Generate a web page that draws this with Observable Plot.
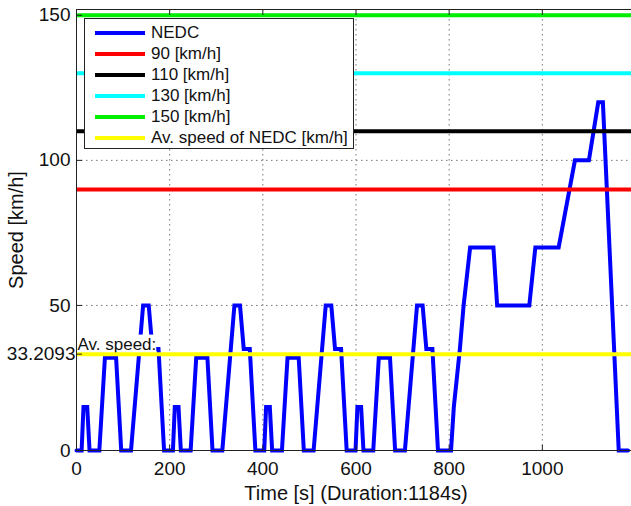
<!DOCTYPE html>
<html><head><meta charset="utf-8">
<script src="https://cdn.jsdelivr.net/npm/d3@7"></script>
<script src="https://cdn.jsdelivr.net/npm/@observablehq/plot@0.6"></script>
<style>
html,body{margin:0;padding:0;background:#fff;overflow:hidden}
#wrap{position:relative;width:631px;height:506px;font-family:"Liberation Sans",Arial,sans-serif;overflow:hidden}
#legend{position:absolute;left:84px;top:18px;width:270px;height:131px;background:#fff;border:1px solid #222;box-sizing:border-box;padding-top:3px}
.row{display:flex;align-items:center;height:21px;font-size:17px;color:#111;white-space:nowrap}
.sw{width:50px;height:4px;margin-left:10px;margin-right:6px}
</style></head><body><div id="wrap"></div>
<script>
// NEDC speed profile (time in s, speed in km/h)
const nedcTime = [0,11,15,23,28,49,61,85,96,117,143,155,163,176,188,
  207,211,219,224,245,257,281,292,313,339,351,359,372,384,
  403,407,415,420,441,453,477,488,509,535,547,555,568,580,
  599,603,611,616,637,649,673,684,705,731,743,751,764,776,
  804,810,823,831,845,895,903,972,985,1035,1070,1100,1120,1130,1164,1184];
const nedcSpeed = [0,0,15,15,0,0,32,32,0,0,50,50,35,35,0,
  0,15,15,0,0,32,32,0,0,50,50,35,35,0,
  0,15,15,0,0,32,32,0,0,50,50,35,35,0,
  0,15,15,0,0,32,32,0,0,50,50,35,35,0,
  0,15,35,50,70,70,50,50,70,70,100,100,120,120,0,0];
const refSpeeds = [90, 110, 130, 150];
const avgSpeed = 33.2093;
const seriesNames = ["NEDC","90 [km/h]","110 [km/h]","130 [km/h]","150 [km/h]","Av. speed of NEDC [km/h]"];
const seriesColors = ["#0000ff","#ff0000","#000000","#00ffff","#00ee00","#ffff00"];
const xTicks = [0, 200, 400, 600, 800, 1000];
const yTicks = [0, 50, 100, 150];
const xLabel = "Time [s] (Duration:1184s)";
const yLabel = "Speed [km/h]";
const avgLabel = "Av. speed:";

const nedc = nedcTime.map((t, i) => ({t, v: nedcSpeed[i]}));
const refs = refSpeeds.map((v, i) => ({v, c: seriesColors[i + 1]}));
const fmt = d => String(d);

const chart = Plot.plot({
  width: 631, height: 506,
  marginLeft: 76, marginRight: -4, marginTop: 9, marginBottom: 56,
  style: {fontFamily: "Liberation Sans, Arial, sans-serif", fontSize: "19px", color: "#111", background: "#fff"},
  x: {domain: [0, 1200]},
  y: {domain: [0, 152]},
  color: {type: "identity"},
  marks: [
    Plot.gridX(xTicks, {stroke: "#555", strokeOpacity: 0.8, strokeDasharray: "1.5,3.5"}),
    Plot.gridY([...yTicks, avgSpeed], {stroke: "#555", strokeOpacity: 0.8, strokeDasharray: "1.5,3.5"}),
    Plot.line(nedc, {x: "t", y: "v", stroke: seriesColors[0], strokeWidth: 4, strokeLinejoin: "miter", strokeMiterlimit: 3}),
    Plot.text([avgSpeed], {y: d => d, frameAnchor: "left", text: () => avgLabel, textAnchor: "start", dx: 1, dy: -10, fontSize: 17, fill: "#111"}),
    Plot.ruleY(refs, {y: "v", stroke: "c", strokeWidth: 4}),
    Plot.ruleY([avgSpeed], {stroke: seriesColors[5], strokeWidth: 4}),
    Plot.axisX(xTicks, {tickSize: -5, tickPadding: 15.5, stroke: "#222", fontSize: 19, tickFormat: fmt, label: xLabel, labelAnchor: "center", labelOffset: 49, labelArrow: "none"}),
    Plot.axisX(xTicks, {anchor: "top", tickSize: -5, stroke: "#222", tickFormat: () => "", label: null}),
    Plot.axisY(yTicks, {tickSize: -6, tickPadding: 12, stroke: "#222", fontSize: 19, tickFormat: fmt, label: yLabel, labelAnchor: "center", labelOffset: 68, labelArrow: "none"}),
    Plot.axisY([avgSpeed], {tickSize: -6, tickPadding: 7, stroke: "#222", fontSize: 19, tickFormat: fmt, label: null}),
    Plot.frame({stroke: "#222"})
  ]
});

const wrap = document.getElementById("wrap");
wrap.appendChild(chart);

// white box behind the average-speed note
for (const t of chart.querySelectorAll("text")) {
  if (t.textContent === avgLabel) {
    const b = t.getBBox();
    const r = document.createElementNS("http://www.w3.org/2000/svg", "rect");
    r.setAttribute("x", b.x); r.setAttribute("y", b.y);
    r.setAttribute("width", b.width); r.setAttribute("height", b.height);
    r.setAttribute("fill", "#fff");
    const tr = t.getAttribute("transform");
    if (tr) r.setAttribute("transform", tr);
    t.parentNode.insertBefore(r, t);
  }
}
// axis title sizes
for (const t of chart.querySelectorAll("text")) {
  if (t.textContent === xLabel || t.textContent === yLabel) t.setAttribute("font-size", "20");
}

const legend = document.createElement("div");
legend.id = "legend";
seriesNames.forEach((name, i) => {
  const row = document.createElement("div");
  row.className = "row";
  const sw = document.createElement("div");
  sw.className = "sw";
  sw.style.background = seriesColors[i];
  const lab = document.createElement("span");
  lab.textContent = name;
  row.appendChild(sw); row.appendChild(lab);
  legend.appendChild(row);
});
wrap.appendChild(legend);
</script></body></html>
